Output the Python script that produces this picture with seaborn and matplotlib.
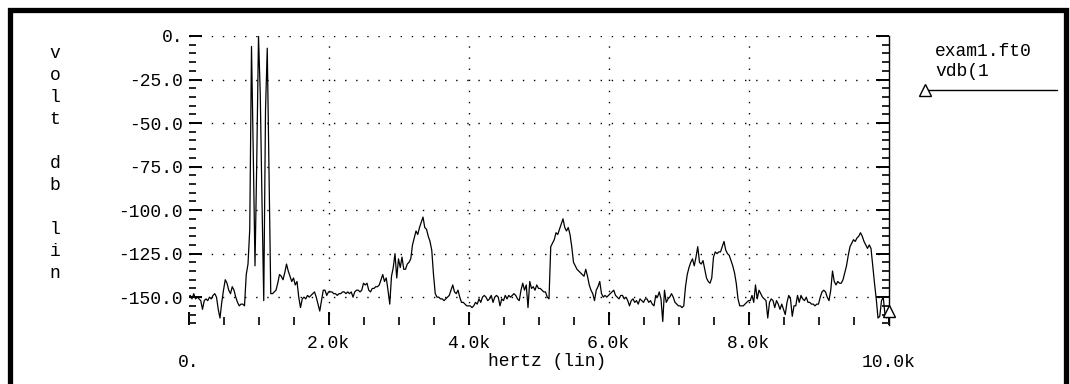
import numpy as np
import matplotlib
matplotlib.use("Agg")
import matplotlib.pyplot as plt
import seaborn as sns
from matplotlib.ticker import MultipleLocator, FixedLocator
from matplotlib.lines import Line2D
from matplotlib.patches import Rectangle

# ---------------- data ----------------
freq_step_hz = 25  # FFT bin spacing, 0 .. 10 kHz

vdb_rows = [
    # 0.000 - 0.475 kHz
    [-150, -149, -151, -148, -151, -150, -151, -152, -157, -152,
     -151, -152, -150, -151, -149, -148, -150, -157, -162, -153],
    # 0.500 - 0.975 kHz
    [-146, -140, -142, -146, -148, -144, -146, -150, -153, -155,
     -154, -154, -155, -137, -131, -111, -6, -67, -132, -72],
    # 1.000 - 1.475 kHz
    [0, -33, -95, -152, -43, -7, -78, -148, -148, -147,
     -146, -142, -137, -138, -140, -136, -131, -135, -138, -141],
    # 1.500 - 1.975 kHz
    [-139, -143, -141, -150, -156, -151, -150, -151, -149, -150,
     -149, -148, -147, -150, -154, -158, -152, -146, -146, -149],
    # 2.000 - 2.475 kHz
    [-147, -147, -147, -148, -148, -149, -148, -148, -147, -147,
     -148, -147, -148, -147, -150, -147, -146, -146, -147, -146],
    # 2.500 - 2.975 kHz
    [-142, -143, -142, -146, -147, -145, -145, -144, -144, -143,
     -140, -137, -141, -139, -146, -154, -138, -133, -125, -139],
    # 3.000 - 3.475 kHz
    [-128, -133, -127, -134, -134, -131, -130, -128, -120, -116,
     -112, -114, -110, -107, -104, -110, -111, -115, -118, -123],
    # 3.500 - 3.975 kHz
    [-137, -148, -150, -150, -151, -151, -152, -151, -150, -149,
     -146, -143, -147, -148, -146, -150, -153, -153, -154, -155],
    # 4.000 - 4.475 kHz
    [-155, -155, -156, -155, -153, -154, -151, -153, -150, -149,
     -150, -152, -151, -149, -153, -150, -149, -150, -155, -151],
    # 4.500 - 4.975 kHz
    [-152, -149, -151, -149, -150, -149, -148, -149, -151, -152,
     -146, -142, -146, -143, -156, -141, -145, -144, -146, -143],
    # 5.000 - 5.475 kHz
    [-145, -145, -146, -147, -147, -150, -151, -121, -119, -117,
     -113, -114, -111, -108, -105, -110, -112, -110, -114, -121],
    # 5.500 - 5.975 kHz
    [-130, -132, -134, -135, -136, -137, -138, -134, -138, -143,
     -146, -148, -152, -146, -144, -141, -148, -150, -149, -150],
    # 6.000 - 6.475 kHz
    [-149, -148, -147, -146, -149, -150, -151, -149, -149, -151,
     -150, -152, -155, -152, -151, -153, -152, -154, -151, -152],
    # 6.500 - 6.975 kHz
    [-153, -151, -151, -153, -152, -154, -155, -149, -150, -147,
     -151, -164, -146, -153, -151, -150, -148, -150, -153, -154],
    # 7.000 - 7.475 kHz
    [-155, -155, -156, -155, -144, -137, -133, -130, -128, -132,
     -127, -121, -130, -131, -129, -134, -139, -141, -142, -139],
    # 7.500 - 7.975 kHz
    [-127, -124, -125, -124, -124, -121, -118, -123, -125, -126,
     -129, -132, -136, -142, -151, -155, -155, -155, -154, -153],
    # 8.000 - 8.475 kHz
    [-152, -152, -149, -153, -143, -151, -146, -148, -150, -151,
     -152, -162, -153, -151, -152, -156, -152, -154, -157, -154],
    # 8.500 - 8.975 kHz
    [-157, -160, -153, -149, -151, -161, -155, -155, -149, -153,
     -149, -151, -152, -150, -153, -153, -154, -154, -155, -154],
    # 9.000 - 9.475 kHz
    [-154, -150, -147, -146, -147, -150, -152, -146, -135, -141,
     -143, -141, -142, -142, -140, -136, -132, -126, -121, -119],
    # 9.500 - 9.975 kHz
    [-117, -118, -116, -115, -113, -115, -118, -120, -122, -120,
     -122, -132, -142, -151, -162, -161, -152, -150, -160, -162],
    # 10.000 kHz
    [-158],
]
vdb = np.array([v for row in vdb_rows for v in row], dtype=float)
freq_hz = np.arange(len(vdb)) * freq_step_hz

y_ticks = [0, -25, -50, -75, -100, -125, -150]
y_tick_labels = ["0.", "-25.0", "-50.0", "-75.0", "-100.0", "-125.0", "-150.0"]
x_ticks = [0, 2000, 4000, 6000, 8000, 10000]
x_tick_labels = ["\n0.", "2.0k", "4.0k", "6.0k", "8.0k", "\n10.0k"]
y_label_words = ["volt", "db", "lin"]
x_label = "hertz (lin)"
legend_file = "exam1.ft0"
legend_signal = "vdb(1"

# ---------------- styling ----------------
sns.set_style("white")
plt.rcParams["font.family"] = ["Liberation Mono", "DejaVu Sans Mono"]
FS = 13

W, H = 1070, 384
fig = plt.figure(figsize=(W / 100, H / 100), dpi=100)
fig.patch.set_facecolor("white")

def fx(px):
    return px / W

def fy(py):
    return 1 - py / H

ax_left, ax_right, ax_top, ax_bottom = 188.5, 888.5, 36, 325
ax = fig.add_axes([fx(ax_left), fy(ax_bottom), fx(ax_right - ax_left),
                   (ax_bottom - ax_top) / H])
ax.set_facecolor("white")

sns.lineplot(x=freq_hz, y=vdb, ax=ax, color="black", linewidth=0.9,
             estimator=None, sort=False)
ax.plot(freq_hz[-1:], vdb[-1:], ls="none", marker="^", ms=8,
        mfc="white", mec="black", mew=1.0, clip_on=False, zorder=5)

ax.set_xlim(0, 10000)
ax.set_ylim(-166, 0)

# dotted grid
grid_ls = (0, (1, 7))
for xv in x_ticks[1:-1]:
    ax.axvline(xv, color="black", lw=1.0, ls=grid_ls, zorder=0)
for yv in y_ticks:
    ax.axhline(yv, color="black", lw=1.0, ls=grid_ls, zorder=0)

# spines
for s in ["left", "top", "bottom"]:
    ax.spines[s].set_visible(False)
ax.spines["right"].set_visible(True)
ax.spines["right"].set_color("black")
ax.spines["right"].set_linewidth(1.0)

# ticks
ax.xaxis.set_major_locator(FixedLocator(x_ticks))
ax.set_xticklabels(x_tick_labels)
ax.xaxis.set_minor_locator(MultipleLocator(500))
ax.yaxis.set_major_locator(FixedLocator(y_ticks))
ax.set_yticklabels(y_tick_labels)
ax.yaxis.set_minor_locator(MultipleLocator(5))

ax.tick_params(axis="x", which="major", direction="in", length=9.4, width=1.4,
               bottom=True, top=False, pad=7, labelsize=FS, colors="black")
ax.tick_params(axis="x", which="minor", direction="in", length=5.6, width=1.4,
               bottom=True, top=False)
ax.tick_params(axis="y", which="major", direction="in", length=9.4, width=1.4,
               left=True, right=True, pad=4, labelsize=FS, colors="black")
ax.tick_params(axis="y", which="minor", direction="in", length=5.0, width=1.4,
               left=True, right=True)
for lab in ax.get_xticklabels():
    lab.set_linespacing(1.2)

ax.set_xlabel(x_label, fontsize=FS, color="black", va="center")
ax.xaxis.set_label_coords((547 - ax_left) / (ax_right - ax_left),
                          (ax_bottom - 361) / (ax_bottom - ax_top))
ax.set_ylabel("")

# stacked vertical y label
stacked = "\n\n".join("\n".join(w) for w in y_label_words)
fig.text(fx(55), fy(163.5), stacked, ha="center", va="center",
         multialignment="center", fontsize=FS, linespacing=1.39, color="black")

# legend block at the right
fig.text(fx(935), fy(51), legend_file, ha="left", va="center", fontsize=FS,
         color="black")
fig.text(fx(935), fy(71), legend_signal, ha="left", va="center", fontsize=FS,
         color="black")
fig.add_artist(Line2D([fx(925), fx(1057)], [fy(90), fy(90)], color="black",
                      lw=1.0, marker="^", markevery=[0], ms=8,
                      mfc="white", mec="black", mew=1.0))

# thick outer frame (top, left, right; bottom runs off the image)
fig.add_artist(Rectangle((fx(9.5), fy(H + 20)), fx(1066 - 9.5), (H + 20 - 9.5) / H,
                         transform=fig.transFigure, fill=False,
                         edgecolor="black", lw=3.8, clip_on=False))

fig.savefig("out.png", dpi=100, facecolor="white")
